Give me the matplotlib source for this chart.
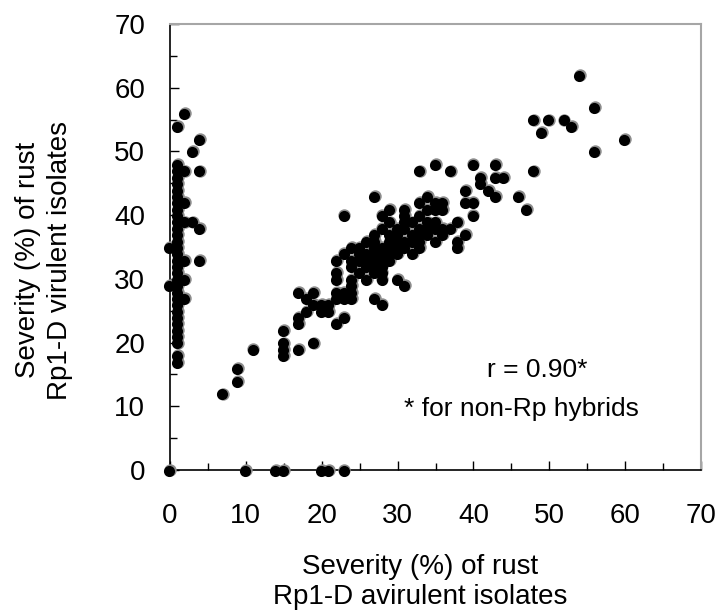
import matplotlib
matplotlib.use("Agg")
import matplotlib.pyplot as plt
import matplotlib.transforms as mtransforms

plt.rcParams['font.family'] = ['Liberation Sans', 'DejaVu Sans']

# points on the zero line (no disease on the virulent isolates)
zero_pts = [(0, 0), (10, 0), (14, 0), (15, 0), (20, 0), (21, 0), (23, 0)]

# Rp hybrids: near-zero severity with avirulent isolates
col_x1_y = [17, 18, 20, 21, 22, 23, 24, 25, 26, 27, 28, 29, 30, 31, 32, 33, 34,
            35, 36, 37, 38, 39, 40, 41, 42, 43, 44, 45, 46, 47, 48]
col_pts = [(0, 35), (0, 29), (2, 56), (1, 54), (4, 52), (3, 50), (2, 47),
           (4, 47), (2, 42), (2, 39), (3, 39), (4, 38), (2, 33), (4, 33),
           (2, 30), (2, 27)]

# non-Rp hybrids
low_pts = [(7, 12), (9, 14), (9, 16), (11, 19), (15, 22), (15, 20), (15, 19),
           (15, 18), (17, 19), (19, 20), (17, 28), (19, 28), (18, 27), (19, 26),
           (20, 26), (21, 26), (18, 25), (20, 25), (21, 25), (17, 24), (17, 23),
           (22, 23), (23, 24), (22, 31), (22, 30), (22, 28), (22, 27), (23, 28),
           (23, 27), (24, 30), (24, 29), (24, 28), (24, 27), (27, 27), (28, 26),
           (30, 30), (31, 29)]

core_rows = {
    39: [29, 31, 32, 34, 35, 38],
    38: [28, 30, 31, 33, 34, 35, 36, 37],
    37: [27, 29, 30, 32, 33, 34, 36, 39],
    36: [26, 27, 29, 30, 31, 32, 33, 35, 38],
    35: [24, 25, 27, 28, 29, 30, 31, 33, 38],
    34: [23, 25, 26, 27, 28, 29, 30, 32],
    33: [22, 24, 25, 26, 27, 28, 29],
    32: [24, 26, 27, 28],
    31: [25, 27, 28],
    30: [26, 28],
}

upper_pts = [(23, 40), (28, 40), (31, 40), (33, 40), (40, 40), (27, 43),
             (29, 41), (31, 41), (34, 41), (35, 41), (36, 41), (36, 42),
             (33, 42), (35, 42), (34, 43), (39, 44), (39, 42), (40, 42),
             (33, 47), (35, 48), (37, 47), (40, 48), (43, 48), (43, 46),
             (44, 46), (41, 46), (41, 45), (42, 44), (43, 43), (46, 43),
             (47, 41), (48, 47), (48, 55), (50, 55), (52, 55), (53, 54),
             (49, 53), (54, 62), (56, 57), (60, 52), (56, 50)]

pts = list(zero_pts) + [(1, v) for v in col_x1_y] + col_pts + low_pts + upper_pts
for yy, row in core_rows.items():
    pts += [(xx, yy) for xx in row]
xs = [p[0] for p in pts]
ys = [p[1] for p in pts]

fig = plt.figure(figsize=(7.17, 6.14), dpi=100)
ax = fig.add_axes([170 / 717, 144 / 614, 531 / 717, 446 / 614])

# gray rim + black body shifted down-left -> Excel-like shaded marker
ax.scatter(xs, ys, s=80, color='#8c8c8c', linewidths=0, clip_on=False, zorder=3)
shift = mtransforms.offset_copy(ax.transData, fig=fig, x=-0.9, y=-0.9, units='dots')
ax.scatter(xs, ys, s=64, color='black', linewidths=0, clip_on=False, zorder=4,
           transform=shift)

ax.set_xlim(0, 70)
ax.set_ylim(0, 70)
ax.set_xticks(range(0, 71, 10))
ax.set_yticks(range(0, 71, 10))
ax.set_xticks(range(5, 70, 10), minor=True)
ax.set_yticks(range(5, 70, 10), minor=True)
ax.tick_params(axis='both', which='major', direction='in', length=6.5, width=1,
               labelsize=20, color='black')
ax.tick_params(axis='both', which='minor', direction='in', length=5, width=1)
ax.tick_params(axis='x', which='major', pad=24)
ax.tick_params(axis='y', which='major', pad=18)

for side in ['left', 'bottom']:
    ax.spines[side].set_color('black')
    ax.spines[side].set_linewidth(1.2)
for side in ['top', 'right']:
    ax.spines[side].set_color('#a6a6a6')
    ax.spines[side].set_linewidth(1.5)

fig.text(44 / 717, 1 - 260 / 614, "Severity (%) of rust\nRp1-D virulent isolates",
         rotation=90, ha='center', va='center', fontsize=20, linespacing=1.3)
fig.text(420 / 717, 1 - 582 / 614, "Severity (%) of rust\nRp1-D avirulent isolates",
         ha='center', va='center', fontsize=20, linespacing=1.2)

fig.text(537 / 717, 1 - 370 / 614, "r = 0.90*", ha='center', va='center', fontsize=19)
fig.text(521 / 717, 1 - 409 / 614, "* for non-Rp hybrids", ha='center', va='center',
         fontsize=19)

fig.savefig("out.png", dpi=100)
